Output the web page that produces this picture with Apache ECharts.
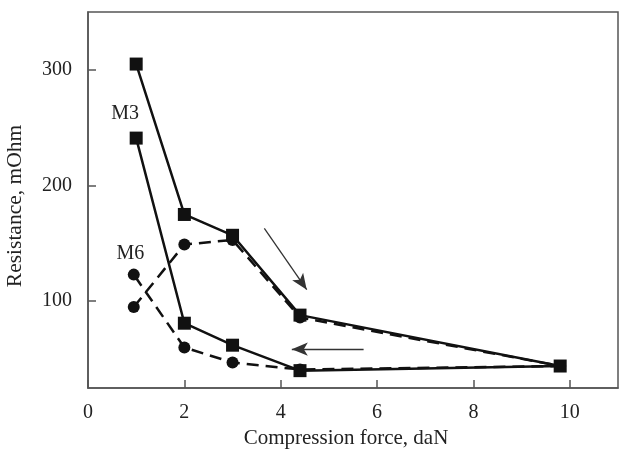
<!DOCTYPE html>
<html>
<head>
<meta charset="utf-8">
<script src="https://cdn.jsdelivr.net/npm/echarts@6/dist/echarts.min.js"></script>
<style>html,body{margin:0;padding:0;background:#fff}#c{width:622px;height:449px}</style>
</head>
<body>
<div id="c"></div>
<script>
// Data
var m3Force = [1.0, 2.0, 3.0, 4.4, 9.8, 4.4, 3.0, 2.0, 1.0];
var m3Resist = [305, 175, 157, 88, 44, 40, 62, 81, 241];
var m6Force = [0.95, 2.0, 3.0, 4.4, 9.8, 4.4, 3.0, 2.0, 0.95];
var m6Resist = [95, 149, 153, 86, 44, 41, 47, 60, 123];
var xTicks = [0, 2, 4, 6, 8, 10];
var yTicks = [100, 200, 300];
var labelNames = ['M3', 'M6'];
var labelX = [0.77, 0.88];
var labelY = [262, 141];
var arrowStart = [[3.66, 163], [5.72, 58.6]];
var arrowEnd = [[4.54, 110], [4.23, 58.6]];

function pairs(xs, ys) { return xs.map(function (x, i) { return [x, ys[i]]; }); }

var font = 'Liberation Serif';
var chart = echarts.init(document.getElementById('c'), null, { renderer: 'canvas' });
chart.setOption({
  animation: false,
  grid: { left: 88, right: 4, top: 12, bottom: 61, outerBoundsMode: 'none', containLabel: false, show: true, borderColor: '#555', borderWidth: 1.5, backgroundColor: 'transparent' },
  xAxis: {
    type: 'value', min: 0, max: 11,
    name: 'Compression force, daN', nameLocation: 'middle', nameGap: 39,
    nameTextStyle: { fontFamily: font, fontSize: 21, color: '#222', padding: [0, 14, 0, 0] },
    axisLine: { show: true, lineStyle: { color: '#555', width: 1.5 } },
    axisTick: { show: true, inside: true, length: 8, customValues: xTicks, lineStyle: { color: '#555', width: 1.5 } },
    axisLabel: { customValues: xTicks, fontFamily: font, fontSize: 20, color: '#222', margin: 15 },
    splitLine: { show: false }
  },
  yAxis: {
    type: 'value', min: 25, max: 350,
    name: 'Resistance, mOhm', nameLocation: 'middle', nameGap: 62,
    nameTextStyle: { fontFamily: font, fontSize: 21.5, color: '#222', padding: [0, 12, 0, 0] },
    axisLine: { show: true, lineStyle: { color: '#555', width: 1.5 } },
    axisTick: { show: true, inside: true, length: 8, customValues: yTicks, lineStyle: { color: '#555', width: 1.5 } },
    axisLabel: { customValues: yTicks, fontFamily: font, fontSize: 20, color: '#222', margin: 16 },
    splitLine: { show: false }
  },
  series: [
    {
      type: 'line', name: 'M6', data: pairs(m6Force, m6Resist),
      symbol: 'circle', symbolSize: 12,
      lineStyle: { color: '#111', width: 2.5, type: [12, 7] },
      itemStyle: { color: '#111' }, z: 2
    },
    {
      type: 'line', name: 'M3', data: pairs(m3Force, m3Resist),
      symbol: 'rect', symbolSize: 13,
      lineStyle: { color: '#111', width: 2.5 },
      itemStyle: { color: '#111' }, z: 3,
      markLine: {
        silent: true, symbol: ['none', 'arrow'], symbolSize: [10, 16],
        lineStyle: { color: '#333', width: 1.3, type: 'solid' },
        label: { show: false },
        data: arrowStart.map(function (s, i) { return [{ coord: s }, { coord: arrowEnd[i] }]; })
      }
    },
    {
      type: 'scatter', symbolSize: 0,
      itemStyle: { opacity: 1, color: '#222' },
      data: labelNames.map(function (n, i) { return { value: [labelX[i], labelY[i]], name: n }; }),
      label: { show: true, position: 'inside', formatter: '{b}', fontFamily: font, fontSize: 20, color: '#222', textBorderWidth: 0 }
    }
  ]
});
</script>
</body>
</html>
